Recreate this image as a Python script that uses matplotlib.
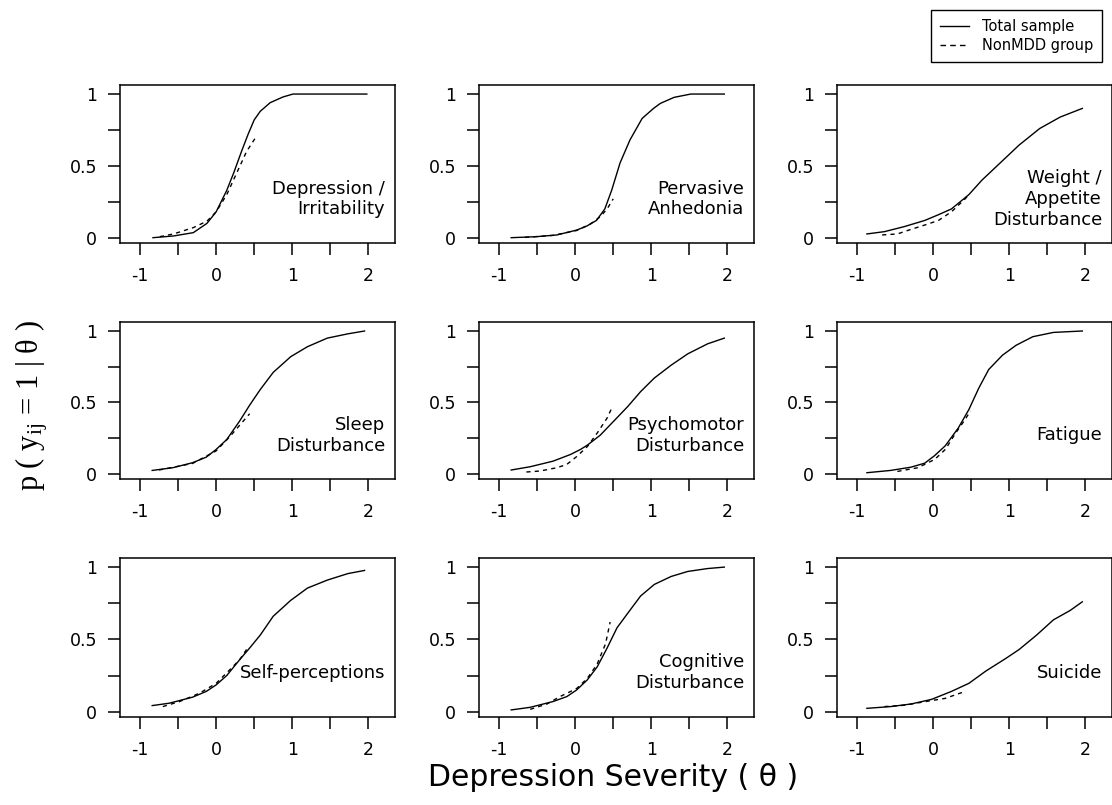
import matplotlib.pyplot as plt
from matplotlib.lines import Line2D

plt.rcParams["font.family"] = ["DejaVu Sans"]
plt.rcParams["axes.unicode_minus"] = False
plt.rcParams["mathtext.fontset"] = "custom"
plt.rcParams["mathtext.rm"] = "Liberation Serif"
plt.rcParams["mathtext.it"] = "Liberation Serif:italic"

items = ["Depression /\nIrritability", "Pervasive\nAnhedonia",
         "Weight /\nAppetite\nDisturbance", "Sleep\nDisturbance",
         "Psychomotor\nDisturbance", "Fatigue", "Self-perceptions",
         "Cognitive\nDisturbance", "Suicide"]

# item characteristic curves: total sample
dep_th = [-0.83, -0.56, -0.30, -0.12, 0.00, 0.14, 0.23, 0.34, 0.42, 0.50, 0.58, 0.71, 0.88, 1.01, 1.98]
dep_p = [0.00, 0.012, 0.035, 0.10, 0.18, 0.33, 0.45, 0.61, 0.72, 0.82, 0.88, 0.94, 0.98, 1.00, 1.00]
anh_th = [-0.84, -0.51, -0.24, 0.02, 0.15, 0.28, 0.39, 0.48, 0.59, 0.72, 0.88, 1.03, 1.12, 1.30, 1.52, 1.96]
anh_p = [0.00, 0.007, 0.019, 0.053, 0.08, 0.12, 0.20, 0.33, 0.52, 0.68, 0.83, 0.90, 0.935, 0.977, 1.00, 1.00]
wgt_th = [-0.87, -0.64, -0.38, -0.11, 0.07, 0.24, 0.47, 0.64, 0.78, 0.96, 1.13, 1.40, 1.67, 1.96]
wgt_p = [0.026, 0.042, 0.077, 0.12, 0.16, 0.20, 0.30, 0.40, 0.47, 0.56, 0.645, 0.76, 0.84, 0.90]
slp_th = [-0.84, -0.57, -0.31, -0.13, 0.00, 0.14, 0.31, 0.44, 0.58, 0.75, 0.98, 1.20, 1.46, 1.73, 1.95]
slp_p = [0.023, 0.042, 0.077, 0.116, 0.17, 0.24, 0.37, 0.48, 0.59, 0.71, 0.82, 0.89, 0.95, 0.98, 1.00]
psy_th = [-0.84, -0.59, -0.29, -0.06, 0.07, 0.16, 0.33, 0.51, 0.69, 0.86, 1.04, 1.26, 1.48, 1.74, 1.96]
psy_p = [0.026, 0.049, 0.088, 0.135, 0.17, 0.20, 0.27, 0.37, 0.47, 0.575, 0.67, 0.76, 0.84, 0.91, 0.95]
fat_th = [-0.87, -0.56, -0.29, -0.11, 0.02, 0.16, 0.33, 0.47, 0.60, 0.73, 0.91, 1.09, 1.31, 1.58, 1.96]
fat_p = [0.007, 0.023, 0.046, 0.074, 0.127, 0.196, 0.32, 0.45, 0.60, 0.73, 0.83, 0.90, 0.96, 0.99, 1.00]
slf_th = [-0.84, -0.62, -0.31, -0.13, 0.00, 0.14, 0.31, 0.44, 0.58, 0.75, 0.98, 1.20, 1.46, 1.73, 1.95]
slf_p = [0.042, 0.058, 0.10, 0.14, 0.185, 0.25, 0.36, 0.44, 0.53, 0.66, 0.77, 0.855, 0.91, 0.955, 0.977]
cog_th = [-0.84, -0.59, -0.29, -0.11, 0.02, 0.16, 0.29, 0.42, 0.55, 0.69, 0.86, 1.04, 1.26, 1.48, 1.74, 1.96]
cog_p = [0.012, 0.03, 0.07, 0.104, 0.15, 0.22, 0.31, 0.44, 0.58, 0.68, 0.80, 0.88, 0.935, 0.97, 0.99, 1.00]
sui_th = [-0.87, -0.56, -0.29, -0.02, 0.24, 0.47, 0.69, 0.96, 1.13, 1.36, 1.58, 1.80, 1.96]
sui_p = [0.023, 0.035, 0.053, 0.085, 0.14, 0.196, 0.28, 0.37, 0.43, 0.53, 0.635, 0.70, 0.76]

# item characteristic curves: NonMDD group
dep_th_n = [-0.74, -0.56, -0.30, -0.12, 0.00, 0.14, 0.27, 0.40, 0.51]
dep_p_n = [0.007, 0.026, 0.07, 0.115, 0.18, 0.30, 0.45, 0.60, 0.69]
anh_th_n = [-0.66, -0.29, 0.02, 0.20, 0.33, 0.42, 0.50]
anh_p_n = [0.002, 0.016, 0.05, 0.095, 0.146, 0.20, 0.27]
wgt_th_n = [-0.67, -0.47, -0.29, -0.11, 0.07, 0.24, 0.42, 0.47]
wgt_p_n = [0.019, 0.026, 0.058, 0.088, 0.12, 0.18, 0.27, 0.30]
slp_th_n = [-0.75, -0.31, 0.00, 0.18, 0.31, 0.44]
slp_p_n = [0.026, 0.072, 0.16, 0.26, 0.34, 0.42]
psy_th_n = [-0.64, -0.46, -0.24, -0.11, 0.02, 0.16, 0.29, 0.42, 0.49]
psy_p_n = [0.012, 0.019, 0.042, 0.065, 0.12, 0.19, 0.285, 0.39, 0.47]
fat_th_n = [-0.47, -0.20, 0.02, 0.16, 0.29, 0.42, 0.49]
fat_p_n = [0.016, 0.042, 0.10, 0.17, 0.28, 0.38, 0.44]
slf_th_n = [-0.70, -0.48, -0.22, 0.00, 0.18, 0.31, 0.40]
slf_p_n = [0.035, 0.07, 0.127, 0.196, 0.29, 0.36, 0.43]
cog_th_n = [-0.59, -0.37, -0.20, 0.02, 0.16, 0.29, 0.40, 0.46]
cog_p_n = [0.016, 0.053, 0.104, 0.16, 0.23, 0.33, 0.47, 0.62]
sui_th_n = [-0.64, -0.38, -0.11, 0.16, 0.42]
sui_p_n = [0.035, 0.044, 0.069, 0.092, 0.14]

total = [(dep_th, dep_p), (anh_th, anh_p), (wgt_th, wgt_p),
         (slp_th, slp_p), (psy_th, psy_p), (fat_th, fat_p),
         (slf_th, slf_p), (cog_th, cog_p), (sui_th, sui_p)]
nonmdd = [(dep_th_n, dep_p_n), (anh_th_n, anh_p_n), (wgt_th_n, wgt_p_n),
          (slp_th_n, slp_p_n), (psy_th_n, psy_p_n), (fat_th_n, fat_p_n),
          (slf_th_n, slf_p_n), (cog_th_n, cog_p_n), (sui_th_n, sui_p_n)]

W, H = 1112, 805
fig = plt.figure(figsize=(W / 100, H / 100), dpi=100)

# panel boxes in pixels
col_left = [120, 479, 837]
box_w = 275
row_top = [85, 322, 558]
row_bot = [243, 479, 717]

for i in range(9):
    r, c = divmod(i, 3)
    ax = fig.add_axes([col_left[c] / W, 1 - row_bot[r] / H,
                       box_w / W, (row_bot[r] - row_top[r]) / H])
    th, p = total[i]
    ax.plot(th, p, color="black", lw=1.0)
    th, p = nonmdd[i]
    ax.plot(th, p, color="black", lw=1.0, dashes=(3, 3))

    ax.set_xlim(-1.263, 2.35)
    ax.set_ylim(-0.037, 1.063)
    ax.set_xticks([-1, 0, 1, 2])
    ax.set_xticks([-0.5, 0.5, 1.5], minor=True)
    ax.set_yticks([0, 0.5, 1])
    ax.set_yticklabels(["0", "0.5", "1"])
    ax.set_yticks([0.25, 0.75], minor=True)
    ax.tick_params(which="both", direction="out", length=8.6, width=1.1,
                   labelsize=12.5, colors="black")
    ax.tick_params(axis="x", which="both", pad=9)
    ax.tick_params(axis="y", which="both", pad=8)
    for s in ax.spines.values():
        s.set_linewidth(1.1)
    ax.text(2.22, 0.27, items[i], ha="right", va="center", fontsize=13,
            multialignment="right")

fig.text(613 / W, 1 - 777 / H, "Depression Severity ( θ )",
         ha="center", va="center", fontsize=21.5)
fig.text(32 / W, 1 - 406 / H, r"p ( y$_{\mathrm{ij}}$ = 1 | θ )",
         rotation=90, ha="center", va="center", fontsize=22,
         family="Liberation Serif")

handles = [Line2D([], [], color="black", lw=1.0),
           Line2D([], [], color="black", lw=1.0, dashes=(4, 3))]
leg = fig.legend(handles, ["Total sample", "NonMDD group"],
                 loc="upper right", bbox_to_anchor=(1102 / W, 1 - 10 / H),
                 fontsize=10.5, frameon=True, fancybox=False, edgecolor="black",
                 framealpha=1, handlelength=2.0, handletextpad=0.9,
                 labelspacing=0.3, borderpad=0.6, borderaxespad=0)
leg.get_frame().set_linewidth(1.0)

fig.savefig("out.png", dpi=100)
